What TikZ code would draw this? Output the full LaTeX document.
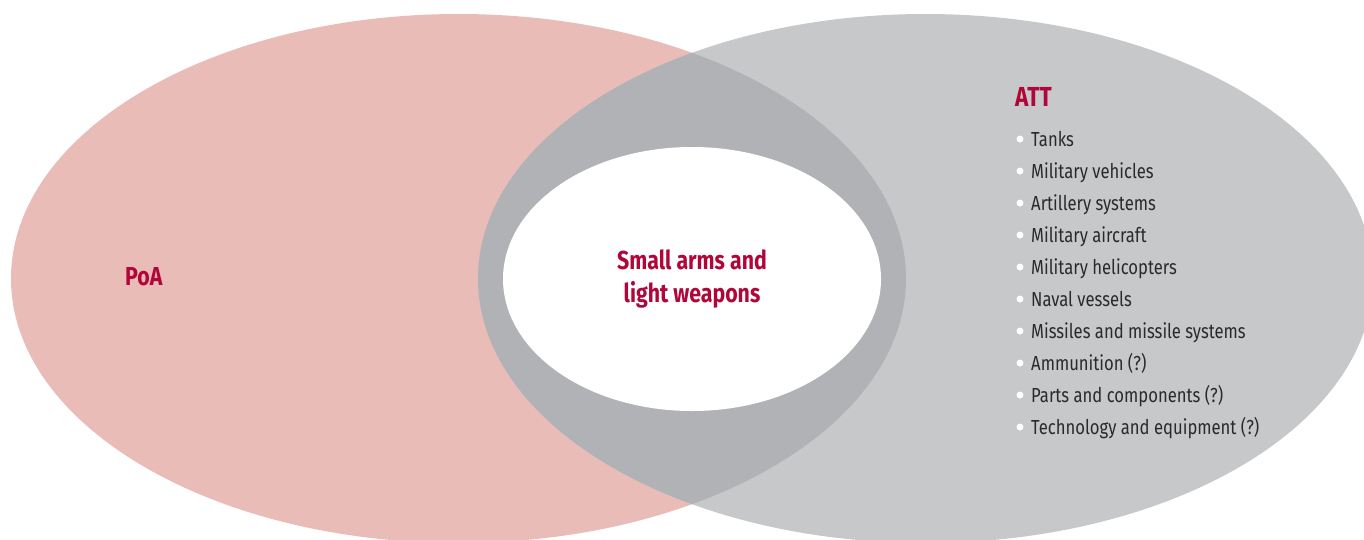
\documentclass[tikz,border=0pt]{standalone}
\usepackage{fontspec}
\setmainfont{Fira Sans}[FakeStretch=0.82]
\definecolor{pinkc}{HTML}{E9BCB8}
\definecolor{grayc}{HTML}{C7C8CA}
\definecolor{overc}{HTML}{B1B2B6}
\definecolor{redc}{HTML}{B1063A}
\definecolor{textc}{HTML}{2A2A2A}
\tikzset{
  redlabel/.style={text=redc, font=\fontsize{26}{32}\selectfont\bfseries, inner sep=0pt},
  itemtext/.style={text=textc, font=\fontsize{20.3}{24}\selectfont, anchor=base west, inner sep=0pt},
  bulletdot/.style={circle, fill=white, minimum size=7pt, inner sep=0pt},
}
\begin{document}
\begin{tikzpicture}[x=1pt,y=-1pt]
\useasboundingbox (0,0) rectangle (1364,539);
\begin{scope}
\clip (0,0) rectangle (1364,539);
\fill[pinkc] (458.5,278.5) ellipse [x radius=447.5, y radius=264.5];
\fill[grayc] (925.5,278.5) ellipse [x radius=447.5, y radius=264.5];
\begin{scope}
\clip (458.5,278.5) ellipse [x radius=447.5, y radius=264.5];
\fill[overc] (925.5,278.5) ellipse [x radius=447.5, y radius=264.5];
\end{scope}
\fill[white] (692,279) ellipse [x radius=189, y radius=132];
\end{scope}
\node[redlabel, anchor=base] (salw1) at (692,269) {Small arms and};
\node[redlabel, anchor=base] (salw2) at (692,302) {light weapons};
\node[redlabel, anchor=base west] (poa) at (125,285) {PoA};
\node[redlabel, anchor=base west, font=\fontsize{27.5}{30}\selectfont\bfseries] (att) at (1015,106) {ATT};
\foreach \t [count=\i from 0] in {Tanks,Military vehicles,Artillery systems,Military aircraft,Military helicopters,Naval vessels,Missiles and missile systems,Ammunition (?),Parts and components (?),Technology and equipment (?)}{
  \node[itemtext] (item\i) at (1031,146+32*\i) {\t};
  \node[bulletdot] (dot\i) at (1020,139+32*\i) {};
}
\end{tikzpicture}
\end{document}
